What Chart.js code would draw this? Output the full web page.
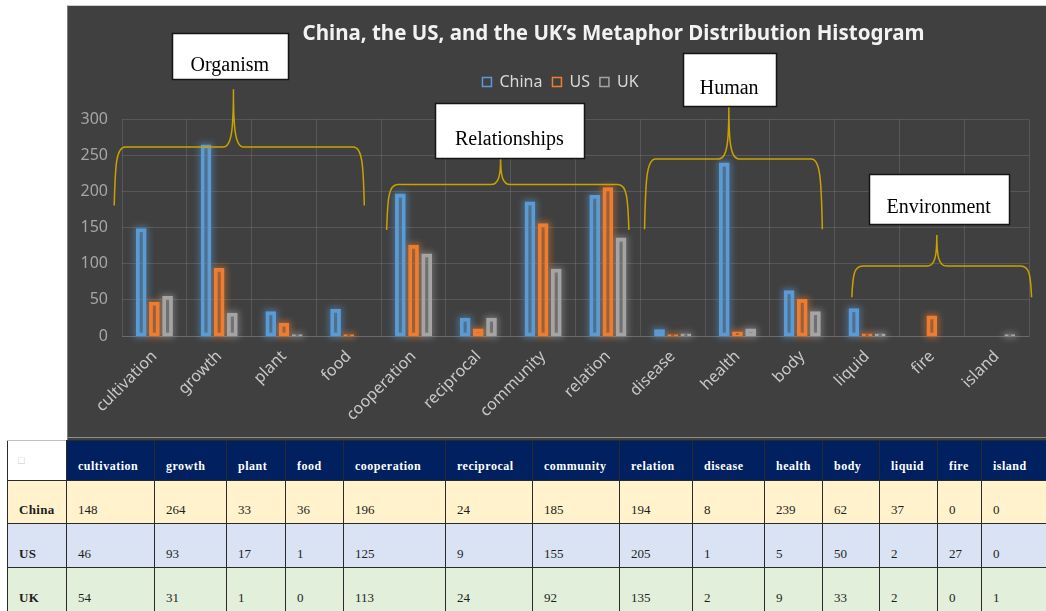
<!DOCTYPE html>
<html>
<head>
<meta charset="utf-8">
<script src="https://cdn.jsdelivr.net/npm/chart.js@4.4.1/dist/chart.umd.min.js"></script>
<style>
html,body{margin:0;padding:0;background:#ffffff;width:1046px;height:611px;overflow:hidden;position:relative;}
#panel{position:absolute;left:67px;top:5px;width:979px;height:435px;background:#404040;border-top:1px solid #cfcfcf;border-left:1px solid #7c7c7c;box-sizing:border-box;}
#pline{position:absolute;left:67px;top:437px;width:979px;height:1px;background:#8e8e8e;}
#wrap{position:absolute;left:68px;top:6px;width:978px;height:431px;}
#tbl{position:absolute;left:7px;top:440px;width:1039px;border-collapse:collapse;table-layout:fixed;font-family:'Liberation Serif','Times New Roman',serif;}
#tbl td,#tbl th{border:1px solid #2a2a2a;padding:0 0 6px 11px;vertical-align:bottom;text-align:left;line-height:15px;overflow:hidden;white-space:nowrap;}
#tbl th{background:#002060;color:#ffffff;font-weight:bold;font-size:12px;letter-spacing:0.5px;padding-bottom:6px;}
#tbl th.corner{background:#ffffff;border-top:1px solid #c0c0c0;vertical-align:middle;padding:0 0 0 10px;color:#c8c8c8;font-weight:normal;font-size:11px;}
#tbl td{font-size:13px;color:#1e1e1e;}
#tbl td.lab{font-weight:bold;letter-spacing:0.3px;}
#tbl tr.r0 td{background:#fff2cc;}
#tbl tr.r1 td{background:#dae3f3;}
#tbl tr.r2 td{background:#e2efda;}
</style>
</head>
<body>
<div id="panel"></div>
<div id="pline"></div>
<div id="wrap"><canvas id="c" width="978" height="431"></canvas></div>
<table id="tbl"></table>
<script>
// ---------- data ----------
const categories = ['cultivation','growth','plant','food','cooperation','reciprocal','community','relation','disease','health','body','liquid','fire','island'];
const chinaValues = [148,264,33,36,196,24,185,194,8,239,62,37,0,0];
const usValues    = [46,93,17,1,125,9,155,205,1,5,50,2,27,0];
const ukValues    = [54,31,1,0,113,24,92,135,2,9,33,2,0,1];
const seriesNames = ['China','US','UK'];
const yTickValues = [0,50,100,150,200,250,300];
const titleText = 'China, the US, and the UK\u2019s Metaphor Distribution Histogram';
const groupLabels = ['Organism','Relationships','Human','Environment'];

// ---------- styles / annotation layout (category-index and value coordinates) ----------
const seriesColors = ['#5b9bd5','#ed7d31','#a5a5a5'];
const seriesFills  = ['rgba(91,155,213,0.3)','rgba(237,125,49,0.3)','rgba(165,165,165,0.25)'];
const seriesGlows  = ['rgba(91,155,213,0.55)','rgba(237,125,49,0.55)','rgba(200,200,200,0.4)'];
const groupLayout = [
  {from:-0.62, to:3.24,  peak:1.22,  base:181, bar:262, tip:342, bx:1.164, by:388, bw:116, bh:46},
  {from:3.585, to:7.324, peak:5.344, base:147, bar:210, tip:247, bx:5.48,  by:285, bw:149, bh:55},
  {from:7.566, to:10.31, peak:8.867, base:148, bar:245.5, tip:319, bx:8.872, by:356, bw:93, bh:53},
  {from:10.765,to:13.54, peak:12.077,base:53.6, bar:97, tip:140, bx:12.106, by:190, bw:140, bh:50}
];
const FONT = "'Noto Sans','DejaVu Sans',sans-serif";

// ---------- table ----------
(function buildTable(){
  const widths = [59,88,72,59,58,102,87,87,73,72,58,57,58,44,65];
  const tbl = document.getElementById('tbl');
  let html = '<colgroup>' + widths.map(w=>'<col style="width:'+w+'px">').join('') + '</colgroup>';
  html += '<tr style="height:40px"><th class="corner">\u25A1</th>' + categories.map(c=>'<th>'+c+'</th>').join('') + '</tr>';
  const rows = [chinaValues, usValues, ukValues];
  const hs = [43,44,44];
  rows.forEach((vals,i)=>{
    html += '<tr class="r'+i+'" style="height:'+hs[i]+'px"><td class="lab">'+seriesNames[i]+'</td>' + vals.map(v=>'<td>'+v+'</td>').join('') + '</tr>';
  });
  tbl.innerHTML = html;
})();

// ---------- plugins ----------
const glowPlugin = {
  id:'glow',
  beforeDatasetsDraw(chart){
    const ctx = chart.ctx;
    chart.data.datasets.forEach((ds,i)=>{
      const meta = chart.getDatasetMeta(i);
      meta.data.forEach((bar,j)=>{
        if (!ds.data[j]) return;
        const p = bar.getProps(['x','y','base','width'], true);
        const h = p.base - p.y;
        ctx.save();
        ctx.filter = 'blur(3px)';
        ctx.strokeStyle = seriesGlows[i];
        ctx.lineWidth = 5;
        ctx.strokeRect(p.x - p.width/2, p.y, p.width, h);
        ctx.restore();
      });
    });
  }
};

const layoutTweaks = {
  id:'layoutTweaks',
  beforeLayout(chart){
    const lg = chart.legend;
    if (lg && !lg._patched){
      const f = lg.fit;
      lg.fit = function(){ f.call(this); this.height += 19.5; };
      lg._patched = true;
    }
  },
  afterLayout(chart){
    const t = chart.titleBlock;
    if (t){ t.left += 65; t.right += 65; }
    const lg = chart.legend;
    if (lg){ lg.left += 12; lg.right += 12; }
  }
};

const groupsPlugin = {
  id:'groups',
  afterDraw(chart){
    const ctx = chart.ctx, xS = chart.scales.x, yS = chart.scales.y;
    ctx.save();
    ctx.strokeStyle = '#c9a200';
    ctx.lineWidth = 1.5;
    groupLayout.forEach(g=>{
      const x0 = xS.getPixelForValue(g.from), x1 = xS.getPixelForValue(g.to), xp = xS.getPixelForValue(g.peak);
      const yb = yS.getPixelForValue(g.base), yh = yS.getPixelForValue(g.bar), yt = yS.getPixelForValue(g.tip);
      const r = 11, c = 10, arm = yb - yh, tipH = yh - yt;
      ctx.beginPath();
      ctx.moveTo(x0, yb);
      ctx.bezierCurveTo(x0 + 1, yh + arm*0.3, x0 + 2, yh, x0 + r, yh);
      ctx.lineTo(xp - c, yh);
      ctx.bezierCurveTo(xp - 1.5, yh, xp, yh - tipH*0.35, xp, yt);
      ctx.bezierCurveTo(xp, yh - tipH*0.35, xp + 1.5, yh, xp + c, yh);
      ctx.lineTo(x1 - r, yh);
      ctx.bezierCurveTo(x1 - 2, yh, x1 - 1, yh + arm*0.3, x1, yb);
      ctx.stroke();
    });
    groupLayout.forEach((g,i)=>{
      const cx = xS.getPixelForValue(g.bx), cy = yS.getPixelForValue(g.by);
      const l = Math.round(cx - g.bw/2) + 0.5, t = Math.round(cy - g.bh/2) + 0.5;
      ctx.fillStyle = '#ffffff';
      ctx.fillRect(l, t, g.bw, g.bh);
      ctx.strokeStyle = '#151515';
      ctx.lineWidth = 1.5;
      ctx.strokeRect(l, t, g.bw, g.bh);
      ctx.fillStyle = '#000000';
      ctx.font = "20px 'Liberation Serif','Times New Roman',serif";
      ctx.textAlign = 'center';
      ctx.textBaseline = 'alphabetic';
      ctx.fillText(groupLabels[i], cx, cy + 14.5);
    });
    ctx.restore();
  }
};

// ---------- chart ----------
const seriesValues = [chinaValues, usValues, ukValues];
const gridColor = 'rgba(255,255,255,0.12)';
new Chart(document.getElementById('c'), {
  type:'bar',
  data:{
    labels: categories,
    datasets: seriesNames.map((n,i)=>({
      label:n,
      data:seriesValues[i],
      backgroundColor:seriesFills[i],
      borderColor:seriesColors[i],
      borderWidth:1.8,
      borderSkipped:false,
      inflateAmount:(ctx)=> (ctx.raw ? 1 : 0),
      categoryPercentage:0.61,
      barPercentage:0.66
    }))
  },
  options:{
    responsive:false,
    animation:false,
    devicePixelRatio:1,
    layout:{padding:{left:0,right:17,top:0,bottom:0}},
    plugins:{
      title:{
        display:true, text:titleText, color:'#f2f2f2',
        font:{family:FONT, size:20.5, weight:'bold'},
        padding:{top:16,bottom:17.5}
      },
      legend:{
        display:true, position:'top',
        labels:{
          color:'#d9d9d9', font:{family:FONT, size:16},
          boxWidth:9, boxHeight:9, padding:10,
          generateLabels(chart){
            return chart.data.datasets.map((ds,i)=>({
              text:ds.label, fillStyle:'rgba(0,0,0,0)', strokeStyle:ds.borderColor,
              lineWidth:1.5, hidden:false, datasetIndex:i, fontColor:'#d9d9d9'
            }));
          }
        }
      },
      tooltip:{enabled:false}
    },
    scales:{
      x:{
        grid:{color:gridColor, drawTicks:false, offset:true},
        border:{color:gridColor},
        ticks:{color:'#c8c8c8', font:{family:FONT, size:16}, maxRotation:45, minRotation:45, padding:11, autoSkip:false},
        afterFit(s){ s.height = 101; }
      },
      y:{
        min:0, max:300,
        grid:{color:gridColor, drawTicks:false},
        border:{display:false},
        ticks:{color:'#a6a6a6', font:{family:FONT, size:16}, padding:14},
        afterBuildTicks(s){ s.ticks = yTickValues.map(v=>({value:v})); },
        afterFit(s){ s.width = 54; }
      }
    }
  },
  plugins:[glowPlugin, layoutTweaks, groupsPlugin]
});
</script>
</body>
</html>
